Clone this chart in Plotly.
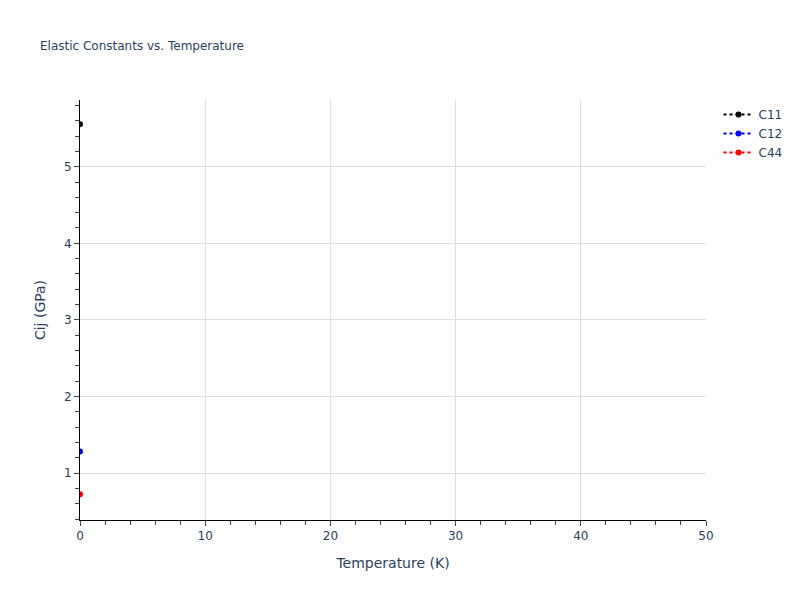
import plotly.graph_objects as go

temperature = [0]
c11 = [5.555]
c12 = [1.285]
c44 = [0.725]

names = ["C11", "C12", "C44"]
colors = ["black", "blue", "red"]
series = [c11, c12, c44]

fig = go.Figure()
for name, color, vals in zip(names, colors, series):
    fig.add_trace(go.Scatter(x=temperature, y=vals, mode="lines+markers", name=name,
                             line=dict(color=color, dash="dot"),
                             marker=dict(color=color, size=6)))

fig.update_layout(
    title=dict(text="Elastic Constants vs. Temperature", font=dict(size=12), x=0.05),
    font=dict(family="Verdana, DejaVu Sans, sans-serif"),
    plot_bgcolor="white",
    paper_bgcolor="white",
    width=800, height=600,
)
fig.update_xaxes(title_text="Temperature (K)", range=[0, 50], dtick=10,
                 showline=True, linecolor="black", linewidth=1,
                 ticks="outside", ticklen=5, tickcolor="#444",
                 showgrid=True, gridcolor="#dddddd", zeroline=False,
                 minor=dict(ticks="outside", dtick=2, ticklen=4, tickcolor="#444", showgrid=False))
fig.update_yaxes(title_text="Cij (GPa)", range=[0.39, 5.87], dtick=1,
                 showline=True, linecolor="black", linewidth=1,
                 ticks="outside", ticklen=5, tickcolor="#444",
                 showgrid=True, gridcolor="#dddddd", zeroline=False,
                 minor=dict(ticks="outside", dtick=0.2, ticklen=4, tickcolor="#444", showgrid=False))

# drop the page margin so the figure sits at the window corner
fig.write_html("out.html", config={"displayModeBar": False},
               post_script="document.body.style.margin = '0';")
